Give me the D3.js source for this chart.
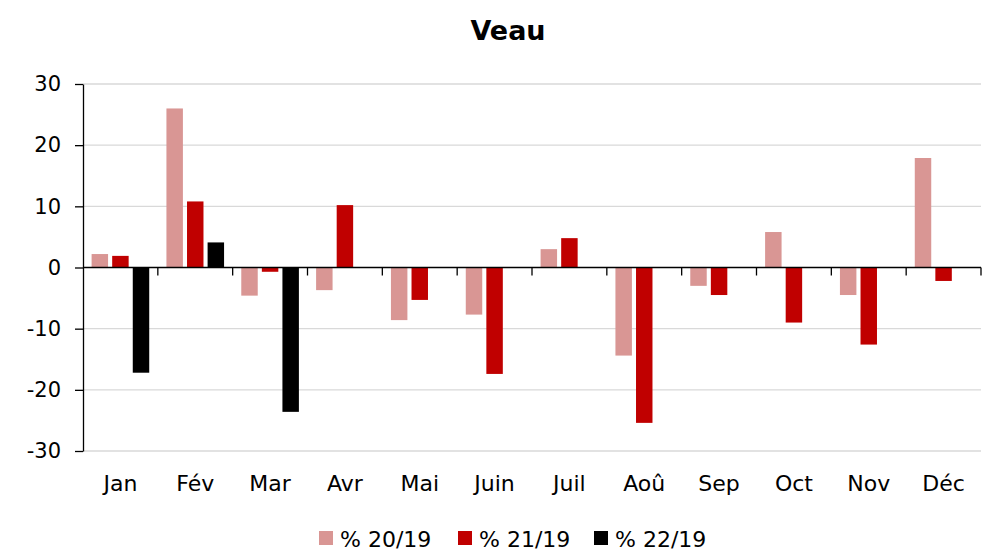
<!DOCTYPE html>
<html>
<head>
<meta charset="utf-8">
<script src="https://cdn.jsdelivr.net/npm/d3@7"></script>
<style>
  body { margin: 0; background: #fff; }
  svg { display: block; font-family: "DejaVu Sans", sans-serif; }
</style>
</head>
<body>
<svg id="chart" width="991" height="551"></svg>
<script>
const months = ["Jan", "Fév", "Mar", "Avr", "Mai", "Juin", "Juil", "Aoû", "Sep", "Oct", "Nov", "Déc"];
const seriesNames = ["% 20/19", "% 21/19", "% 22/19"];
const colors = ["#d99694", "#c00000", "#000000"];
const v2019_20 = [2.2, 26.0, -4.6, -3.7, -8.6, -7.7, 3.0, -14.4, -3.0, 5.8, -4.5, 17.9];
const v2019_21 = [1.9, 10.8, -0.7, 10.2, -5.3, -17.4, 4.8, -25.4, -4.5, -9.0, -12.6, -2.2];
const v2019_22 = [-17.2, 4.1, -23.6, null, null, null, null, null, null, null, null, null];
const yTicks = [-30, -20, -10, 0, 10, 20, 30];

const margin = { top: 84, right: 10, bottom: 100, left: 83 };
const svg = d3.select("#chart");
const width = 981 - margin.left;
const height = 451 - margin.top;

const data = months.map((m, i) => ({
  month: m,
  values: [v2019_20[i], v2019_21[i], v2019_22[i]]
}));

/*title*/
svg.append("text")
  .attr("x", 508)
  .attr("y", 40)
  .attr("text-anchor", "middle")
  .style("font-size", "27px")
  .style("font-weight", "bold")
  .text("Veau");

const g = svg.append("g")
  .attr("transform", "translate(" + margin.left + "," + margin.top + ")");

const y = d3.scaleLinear().domain([-30, 30]).range([height, 0]);
const x0 = d3.scaleBand().domain(months).range([0, width]).paddingInner(0.23).paddingOuter(0.115);
const x1 = d3.scaleBand().domain([0, 1, 2]).range([0, x0.bandwidth()]).paddingInner(0.2);

/*grid lines*/
g.append("g")
  .selectAll("line")
  .data(yTicks.filter(d => d !== 0))
  .enter()
  .append("line")
  .attr("x1", 0)
  .attr("x2", width)
  .attr("y1", d => y(d))
  .attr("y2", d => y(d))
  .attr("stroke", "#d9d9d9")
  .attr("stroke-width", 1.3);

/*bars*/
const groups = g.selectAll("g.month")
  .data(data)
  .enter()
  .append("g")
  .attr("class", "month")
  .attr("transform", d => "translate(" + x0(d.month) + ",0)");

groups.selectAll("rect")
  .data(d => d.values.map((v, k) => ({ k: k, v: v })).filter(d => d.v !== null))
  .enter()
  .append("rect")
  .attr("x", d => x1(d.k))
  .attr("width", x1.bandwidth())
  .attr("y", d => y(Math.max(0, d.v)))
  .attr("height", d => Math.abs(y(d.v) - y(0)))
  .attr("fill", d => colors[d.k]);

/*y axis, plain hyphen for negatives like the source*/
const yAxis = g.append("g")
  .call(d3.axisLeft(y).tickValues(yTicks).tickFormat(d => String(d)).tickSize(8).tickSizeOuter(0).tickPadding(14));
yAxis.select(".domain").attr("stroke", "#000").attr("stroke-width", 1.3);
yAxis.selectAll(".tick line").attr("stroke", "#000").attr("stroke-width", 1.3);
yAxis.selectAll(".tick text")
  .style("font-size", "21px")
  .style("font-family", "DejaVu Sans, sans-serif")
  .attr("fill", "#000");

/*x axis on zero line, ticks between categories*/
const xAxisG = g.append("g").attr("transform", "translate(0," + y(0) + ")");
xAxisG.append("line")
  .attr("x1", 0)
  .attr("x2", width)
  .attr("stroke", "#000")
  .attr("stroke-width", 1.3);
const step = x0.step();
xAxisG.selectAll("line.tk")
  .data(d3.range(1, months.length + 1))
  .enter()
  .append("line")
  .attr("class", "tk")
  .attr("x1", i => x0(months[0]) - x0.paddingOuter() * step + i * step)
  .attr("x2", i => x0(months[0]) - x0.paddingOuter() * step + i * step)
  .attr("y1", 0)
  .attr("y2", 8)
  .attr("stroke", "#000")
  .attr("stroke-width", 1.3);

/*month labels at the bottom*/
g.append("g")
  .selectAll("text")
  .data(months)
  .enter()
  .append("text")
  .attr("x", d => x0(d) + x0.bandwidth() / 2)
  .attr("y", height + 40)
  .attr("text-anchor", "middle")
  .style("font-size", "22px")
  .text(d => d);

/*legend*/
const legendX = [319, 458, 594];
const legend = svg.append("g");
seriesNames.forEach((name, k) => {
  legend.append("rect")
    .attr("x", legendX[k])
    .attr("y", 531)
    .attr("width", 14)
    .attr("height", 14)
    .attr("fill", colors[k]);
  legend.append("text")
    .attr("x", legendX[k] + 21)
    .attr("y", 547)
    .style("font-size", "22px")
    .text(name);
});
</script>
</body>
</html>
